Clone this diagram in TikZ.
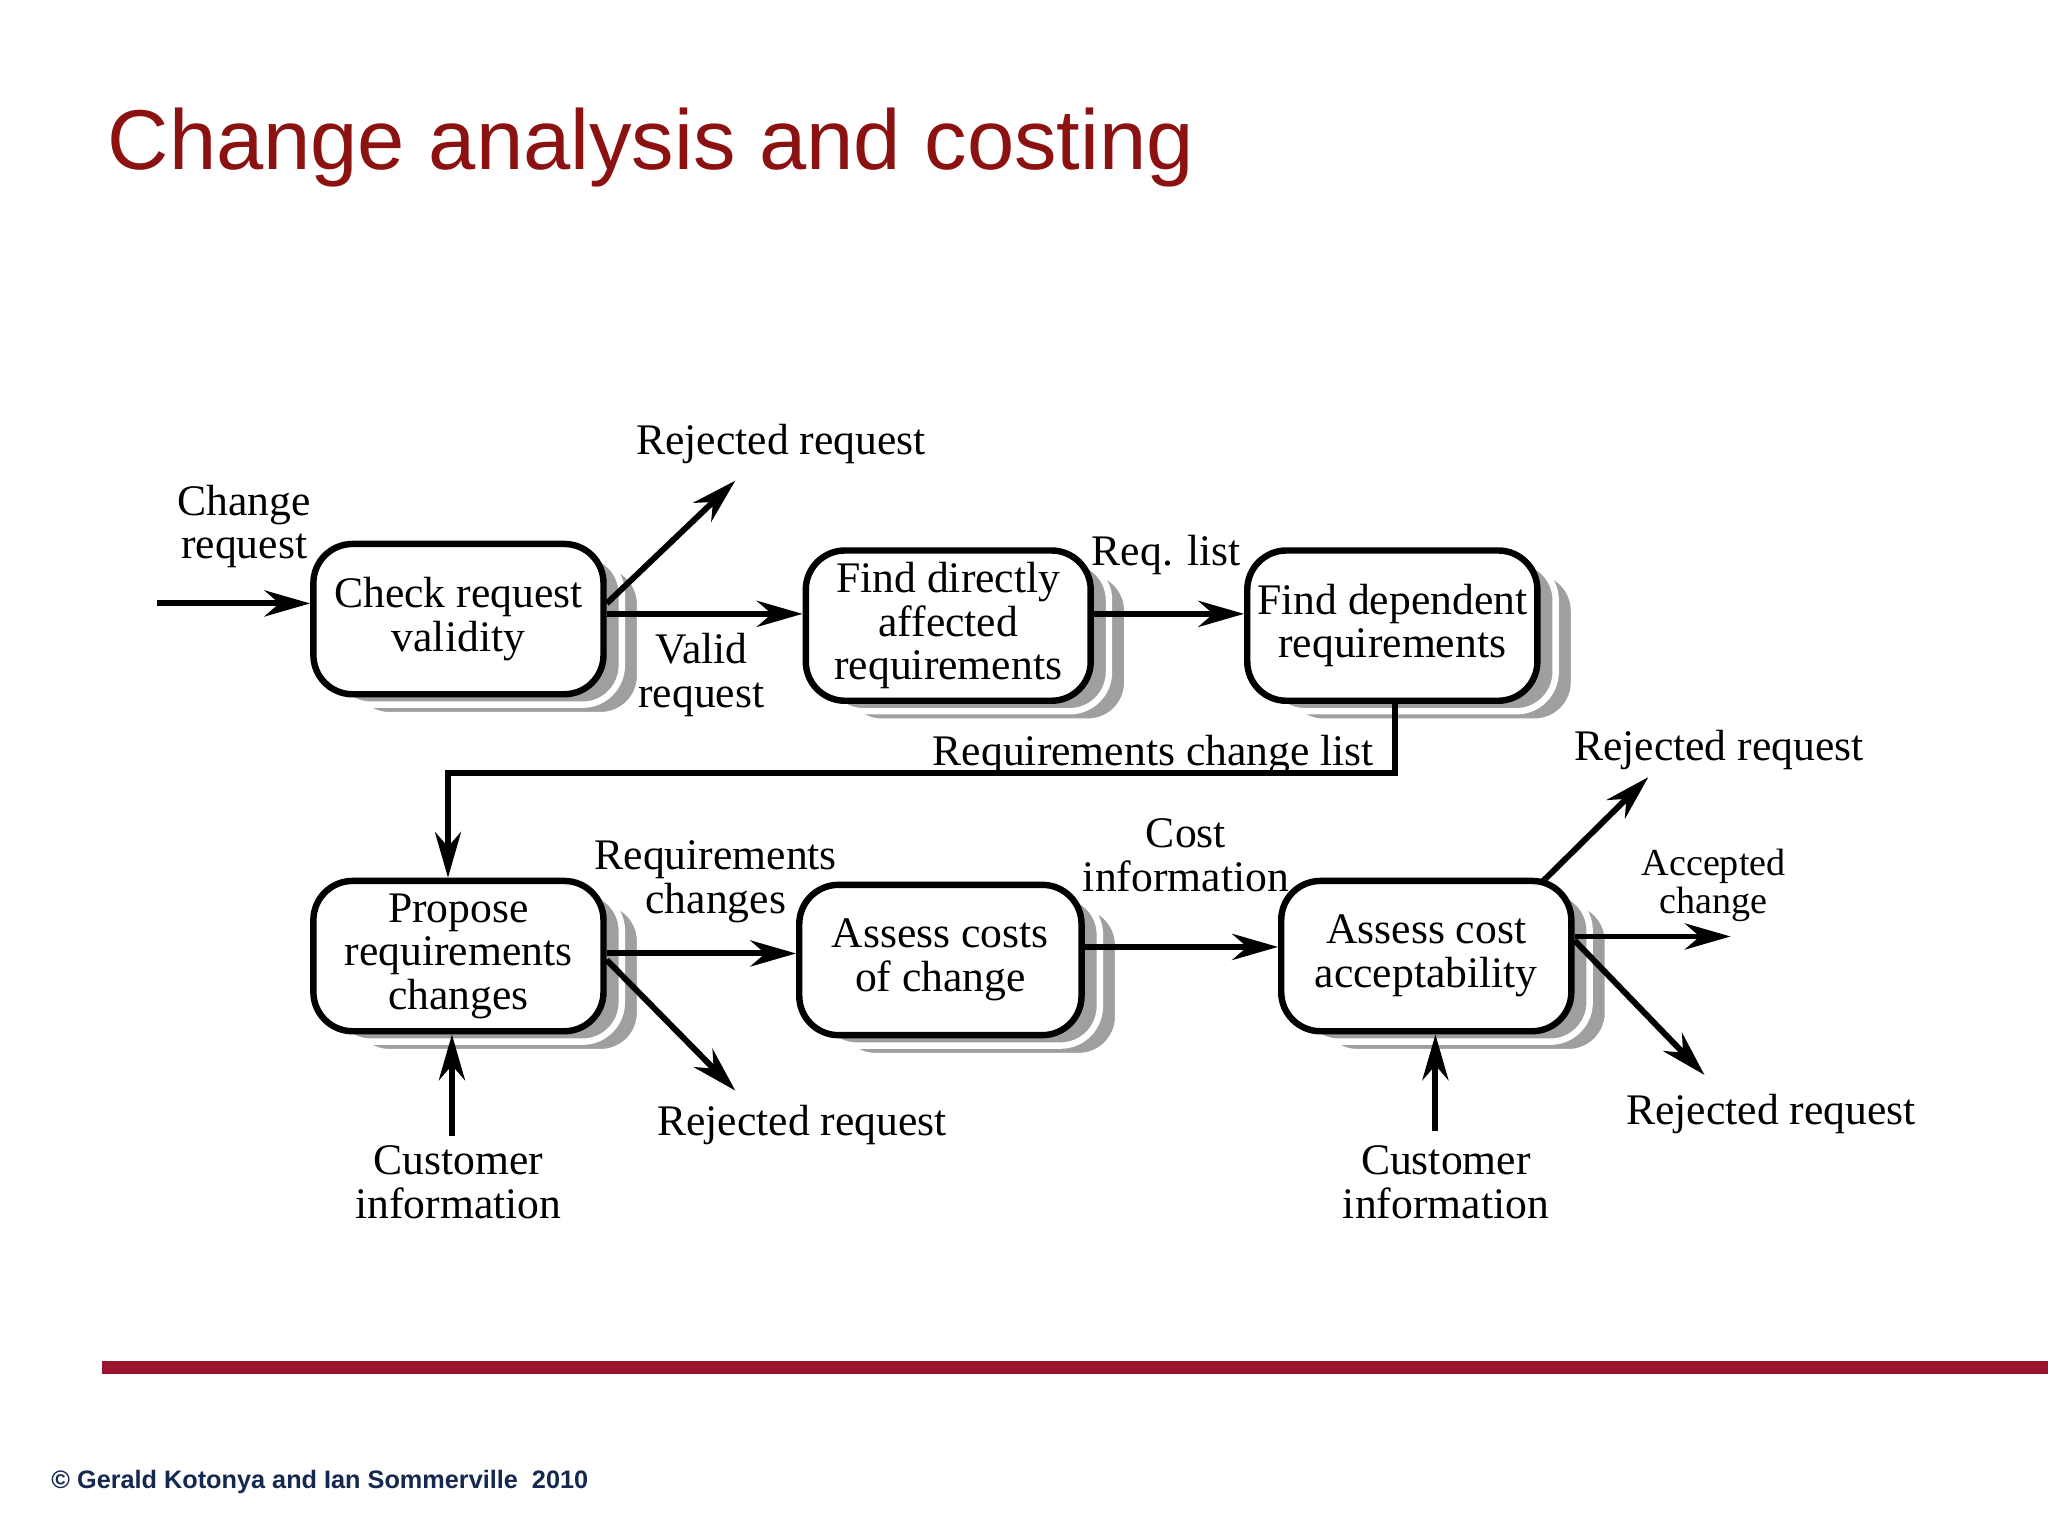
\documentclass[tikz,border=0pt]{standalone}
\usepackage{fontspec}
\setmainfont{Liberation Serif}
\newfontfamily\titlefont{Liberation Sans}
\usetikzlibrary{arrows.meta,shadows}
\definecolor{titlered}{RGB}{140,18,18}
\definecolor{barred}{RGB}{155,20,45}
\definecolor{copyblue}{RGB}{20,40,80}
\begin{document}
\begin{tikzpicture}[x=0.01cm,y=-0.01cm,
  proc/.style={draw,line width=1.4pt,rounded corners=0.3cm,fill=white,minimum width=2.22cm,minimum height=1.15cm,align=center,inner sep=1pt,font=\fontsize{9.5}{9.5}\selectfont,
    double copy shadow={shadow xshift=0.14cm,shadow yshift=-0.08cm,fill=gray!75,draw=white,opacity=1}},
  lbl/.style={align=center,font=\fontsize{9.5}{9.5}\selectfont,inner sep=0pt},
  arr/.style={line width=1.3pt,-{Stealth[length=0.35cm,width=0.2cm]}}]
\useasboundingbox (0,0) rectangle (1568,1176);
\fill[white] (0,0) rectangle (1568,1176);
\node[anchor=west,text=titlered,font=\titlefont\fontsize{18.5}{18.5}\selectfont] (title) at (70,113) {Change analysis and costing};
\node[proc] (crv) at (351,474) {Check request\\validity};
\node[proc,minimum width=2.18cm] (fda) at (726,479) {Find directly\\affected\\requirements};
\node[proc] (fdr) at (1066,479) {Find dependent\\requirements};
\node[proc] (prc) at (351,732) {Propose\\requirements\\changes};
\node[proc,minimum width=2.16cm] (acc) at (720,735) {Assess costs\\of change};
\node[proc] (aca) at (1092,732) {Assess cost\\acceptability};
% labels
\node[lbl] (lcr) at (187,403) {Change\\request};
\node[lbl] (lr1) at (598,340) {Rejected request};
\node[lbl] (lvr) at (537,517) {Valid\\request};
\node[lbl] (lrl) at (893,425) {Req. list};
\node[lbl] (lrcl) at (883,578) {Requirements change list};
\node[lbl] (lrc) at (548,675) {Requirements\\changes};
\node[lbl] (lr2) at (614,861) {Rejected request};
\node[lbl] (lci1) at (351,905) {Customer\\information};
\node[lbl] (lci) at (908,655) {Cost\\information};
\node[lbl] (lr3) at (1316,574) {Rejected request};
\node[lbl,font=\fontsize{8.3}{8.3}\selectfont] (lac) at (1312,678) {Accepted\\change};
\node[lbl] (lr4) at (1356,853) {Rejected request};
\node[lbl] (lci2) at (1107,905) {Customer\\information};
% coordinates
\coordinate (s1) at (120,462);
\coordinate (e1) at (563,368);
\coordinate (e2) at (563,835);
\coordinate (s3) at (346,870);
\coordinate (e4) at (1262,595);
\coordinate (e5) at (1325,717);
\coordinate (e6) at (1305,823);
\coordinate (s7) at (1099,866);
\draw[arr] (s1) -- (crv.west |- s1);
\draw[arr] (crv.east |- 0,462) -- (e1);
\draw[arr] (crv.east |- 0,470) -- (fda.west |- 0,470);
\draw[arr] (fda.east |- 0,470) -- (fdr.west |- 0,470);
\draw[arr] (fdr.south -| 1068,0) -- (1068,592) -- (343,592) -- (prc.north -| 343,0);
\draw[arr] (prc.east |- 0,730) -- (acc.west |- 0,730);
\draw[arr] (prc.east |- 0,735) -- (e2);
\draw[arr] (s3) -- (prc.south -| s3);
\draw[arr] (acc.east |- 0,725) -- (aca.west |- 0,725);
\draw[arr] (1180,676) -- (e4);
\draw[arr] (aca.east |- 0,717) -- (e5);
\draw[arr] (aca.east |- 0,720) -- (e6);
\draw[arr] (s7) -- (aca.south -| s7);
\fill[barred] (78,1042) rectangle (1568,1052);
\node[anchor=west,text=copyblue,font=\titlefont\bfseries\fontsize{5.5}{5.5}\selectfont] (copy) at (27,1135) {© Gerald Kotonya and Ian Sommerville\ \ 2010};
\end{tikzpicture}
\end{document}
